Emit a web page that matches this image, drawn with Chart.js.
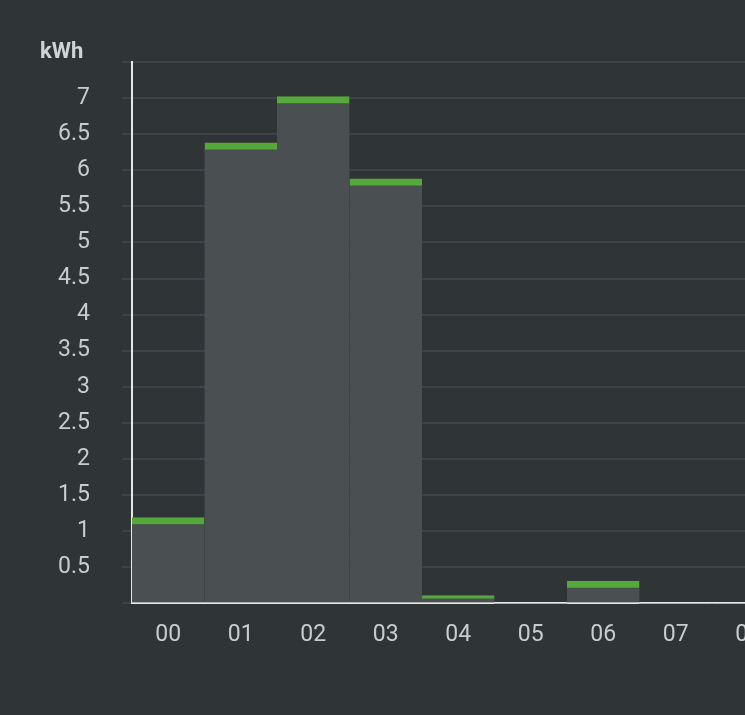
<!DOCTYPE html>
<html><head><meta charset="utf-8">
<script src="https://cdn.jsdelivr.net/npm/chart.js@4/dist/chart.umd.min.js"></script>
<style>
html,body{margin:0;padding:0;background:#2f3437;overflow:hidden;width:745px;height:715px}
#wrap{position:absolute;left:0;top:0;width:857px;height:715px}
#unit{position:absolute;left:40px;top:38px;font:bold 22px Roboto;color:#d0d4d4}
</style></head><body>
<div id="wrap"><canvas id="c"></canvas></div>
<div id="unit">kWh</div>
<script>
const hours = ['00','01','02','03','04','05','06','07','08','09'];
const energy = [1.19, 6.38, 7.02, 5.88, 0.11, 0, 0.31, 0, 0, 0];

Chart.defaults.font.family = 'Roboto';
new Chart(document.getElementById('c'), {
  type: 'bar',
  data: {
    labels: hours,
    datasets: [{
      data: energy,
      backgroundColor: '#4a5052',
      borderColor: '#55a83a',
      borderWidth: {top: 7, left: 0, right: 0, bottom: 0},
      borderSkipped: 'bottom',
      barPercentage: 1,
      categoryPercentage: 1
    }]
  },
  options: {
    responsive: true,
    maintainAspectRatio: false,
    animation: false,
    layout: {padding: {left: 0, top: 62, bottom: 48, right: 0}},
    plugins: {
      legend: {display: false},
      tooltip: {enabled: false}
    },
    scales: {
      x: {
        grid: {display: false, drawTicks: false},
        border: {color: '#e8e8e8', width: 2},
        ticks: {color: '#c8cccc', font: {size: 23}, padding: 18}
      },
      y: {
        min: 0, max: 7.5,
        afterFit: s => { s.width = 132; },
        grid: {color: '#3d4346', lineWidth: 2, drawTicks: true, tickLength: 10, tickColor: '#3d4346'},
        border: {color: '#e8e8e8', width: 2},
        ticks: {
          stepSize: 0.5, color: '#c8cccc', font: {size: 23}, padding: 32,
          callback: v => (v === 0 || v === 7.5) ? '' : v
        }
      }
    }
  }
});
</script>
</body></html>
